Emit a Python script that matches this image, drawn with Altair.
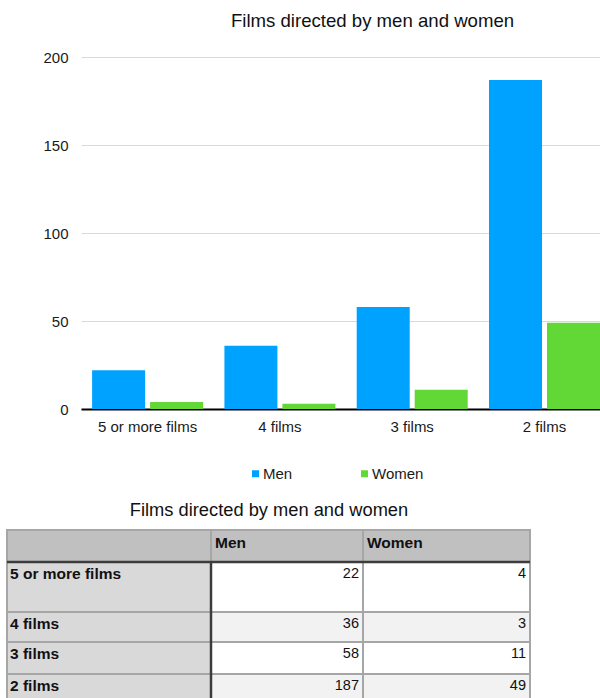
import altair as alt
import pandas as pd

# ---------------- data ----------------
categories = ["5 or more films", "4 films", "3 films", "2 films"]
series_names = ["Men", "Women"]
men_counts = [22, 36, 58, 187]
women_counts = [4, 3, 11, 49]
y_tick_values = [0, 50, 100, 150, 200]
chart_title = "Films directed by men and women"
table_title = "Films directed by men and women"

# ---------------- style / layout ----------------
FONT = "Liberation Sans"
MEN_COLOR = "#00a2ff"
WOMEN_COLOR = "#61d836"
TEXT_COLOR = "#1a1a1a"

# ---------------- bar chart ----------------
bar_df = pd.DataFrame({
    "category": categories + categories,
    "series": [series_names[0]] * len(categories) + [series_names[1]] * len(categories),
    "count": men_counts + women_counts,
})

bars = alt.Chart(bar_df).mark_bar().encode(
    x=alt.X("category:N", sort=categories,
            scale=alt.Scale(paddingInner=0.161, paddingOuter=0.042, align=1),
            axis=alt.Axis(title=None, labelAngle=0, labelFontSize=15, labelColor=TEXT_COLOR,
                          labelFont=FONT, labelPadding=10, ticks=False, tickSize=0,
                          domain=True, domainColor="#000000", domainWidth=2, grid=False)),
    xOffset=alt.XOffset("series:N", sort=series_names,
                        scale=alt.Scale(paddingInner=0.086, paddingOuter=0)),
    y=alt.Y("count:Q", scale=alt.Scale(domain=[0, 200], nice=False),
            axis=alt.Axis(title=None, values=y_tick_values, grid=True, gridColor="#d9d9d9",
                          gridWidth=1, domain=False, ticks=False, tickSize=0,
                          labelFontSize=15, labelPadding=13, labelColor=TEXT_COLOR, labelFont=FONT)),
    color=alt.Color("series:N", sort=series_names,
                    scale=alt.Scale(domain=series_names, range=[MEN_COLOR, WOMEN_COLOR]),
                    legend=alt.Legend(title=None, orient="none", legendX=167, legendY=409,
                                      direction="horizontal", symbolType="square", symbolSize=49,
                                      symbolStrokeWidth=0, labelFontSize=15, labelFont=FONT,
                                      labelOffset=0, columnPadding=64, padding=0,
                                      labelColor=TEXT_COLOR)),
)

# ---------------- table ----------------
col_widths = [204, 152, 167]
row_heights = [32, 50, 30, 32, 30]
col_edges = [0]
for w in col_widths:
    col_edges.append(col_edges[-1] + w)
row_edges = [0]
for h in row_heights:
    row_edges.append(row_edges[-1] + h)

cell_rows = []
for r in range(len(row_heights)):
    for c in range(len(col_widths)):
        if r == 0:
            fill = "#bfc0bf"
        elif c == 0:
            fill = "#d9d9d9"
        elif (r - 1) % 2 == 0:
            fill = "#ffffff"
        else:
            fill = "#f2f2f2"
        cell_rows.append({"x": col_edges[c], "x2": col_edges[c + 1],
                          "y": row_edges[r], "y2": row_edges[r + 1], "fill": fill})
cells_df = pd.DataFrame(cell_rows)

tx = alt.Scale(domain=[0, col_edges[-1]], range=[-74, -74 + col_edges[-1]], nice=False, zero=False)
ty = alt.Scale(domain=[0, row_edges[-1]], range=[473, 473 + row_edges[-1]], nice=False, zero=False)

cells = alt.Chart(cells_df).mark_rect(stroke="#a6a6a6", strokeWidth=2).encode(
    x=alt.X("x:Q", scale=tx, axis=None), x2="x2:Q",
    y=alt.Y("y:Q", scale=ty, axis=None), y2="y2:Q",
    fill=alt.Fill("fill:N", scale=None),
)

rules_df = pd.DataFrame([
    {"x": 0, "x2": col_edges[-1], "y": row_edges[1], "y2": row_edges[1]},
    {"x": col_edges[1], "x2": col_edges[1], "y": row_edges[1], "y2": row_edges[-1]},
])
rules = alt.Chart(rules_df).mark_rule(color="#3c3c3c", strokeWidth=2.5).encode(
    x=alt.X("x:Q", scale=tx, axis=None), x2="x2:Q",
    y=alt.Y("y:Q", scale=ty, axis=None), y2="y2:Q",
)

bold_rows = []
for c, name in enumerate(series_names):
    bold_rows.append({"x": col_edges[c + 1] + 4, "y": 13, "text": name})
for i, cat in enumerate(categories):
    bold_rows.append({"x": 3, "y": row_edges[i + 1] + 11.5, "text": cat})
bold_df = pd.DataFrame(bold_rows)

bold_text = alt.Chart(bold_df).mark_text(align="left", baseline="middle", fontWeight="bold",
                                         fontSize=15.5, font=FONT, color="#111111").encode(
    x=alt.X("x:Q", scale=tx, axis=None),
    y=alt.Y("y:Q", scale=ty, axis=None),
    text="text:N",
)

value_rows = []
for i, cat in enumerate(categories):
    value_rows.append({"x": col_edges[2] - 4, "y": row_edges[i + 1] + 11.5, "text": str(men_counts[i])})
    value_rows.append({"x": col_edges[3] - 4, "y": row_edges[i + 1] + 11.5, "text": str(women_counts[i])})
value_df = pd.DataFrame(value_rows)

value_text = alt.Chart(value_df).mark_text(align="right", baseline="middle", fontSize=14.5,
                                           font=FONT, color="#111111").encode(
    x=alt.X("x:Q", scale=tx, axis=None),
    y=alt.Y("y:Q", scale=ty, axis=None),
    text="text:N",
)

ttitle_df = pd.DataFrame([{"x": 262, "y": -19, "text": table_title}])
ttitle = alt.Chart(ttitle_df).mark_text(align="center", baseline="middle", fontSize=18.3,
                                        font=FONT, color="#111111").encode(
    x=alt.X("x:Q", scale=tx, axis=None),
    y=alt.Y("y:Q", scale=ty, axis=None),
    text="text:N",
)

table = alt.layer(cells, rules, bold_text, value_text, ttitle)

chart = alt.layer(bars, table).resolve_scale(
    x="independent", y="independent"
).properties(
    width=519,
    height=352,
    padding={"left": 81, "top": 57, "right": 0, "bottom": 289},
    autosize=alt.AutoSizeParams(type="none"),
    background="#ffffff",
    title=alt.Title(chart_title, fontSize=18.6, fontWeight="normal", font=FONT, color="#111111",
                    anchor="middle", frame="group", dx=32, offset=4, baseline="alphabetic"),
).configure(
    font=FONT
).configure_view(
    stroke="transparent", strokeWidth=0
).configure_axis(
    grid=False
)

chart.save("out.html", embed_options={"renderer": "svg", "actions": False})
